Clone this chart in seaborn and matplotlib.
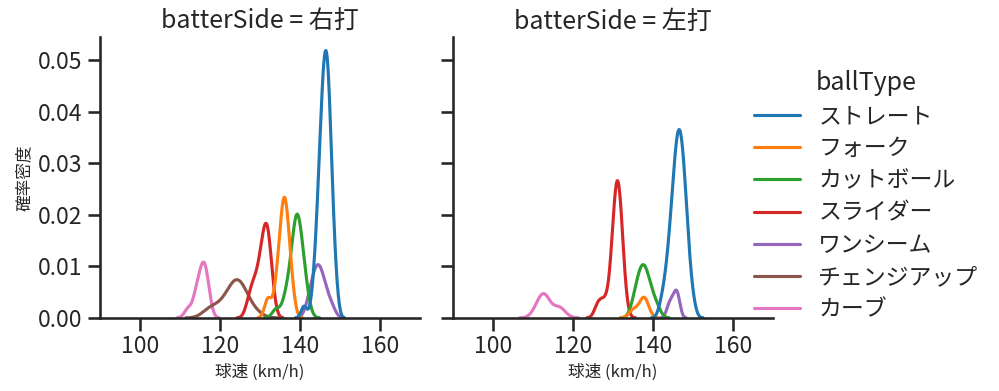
import numpy as np
import pandas as pd
import seaborn as sns
import matplotlib.pyplot as plt

ball_types = ["ストレート", "フォーク", "カットボール", "スライダー", "ワンシーム", "チェンジアップ", "カーブ"]
sides = ["右打", "左打"]

# 右打 (speed km/h, pitch count)
r_straight_kmh = [141, 143, 144, 145, 146, 147, 148, 149]
r_straight_n = [1, 1, 4, 9, 14, 14, 7, 2]
r_fork_kmh = [132, 134, 135, 136, 137, 138]
r_fork_n = [2, 2, 4, 8, 5, 2]
r_cut_kmh = [134, 136, 137, 138, 139, 140, 141, 142]
r_cut_n = [1, 1, 2, 3, 7, 5, 3, 1]
r_slider_kmh = [127, 128, 129, 130, 131, 132, 133]
r_slider_n = [1, 2, 2, 3, 5, 6, 2]
r_oneseam_kmh = [142, 143, 144, 145, 146, 147, 148]
r_oneseam_n = [1, 2, 3, 3, 2, 1, 1]
r_change_kmh = [117, 118, 120, 121, 122, 123, 124, 125, 126, 127, 129]
r_change_n = [1, 1, 1, 1, 1, 2, 3, 2, 2, 1, 1]
r_curve_kmh = [112, 114, 115, 116, 117]
r_curve_n = [1, 2, 2, 4, 2]

# 左打
l_straight_kmh = [142, 143, 144, 145, 146, 147, 148, 149, 150]
l_straight_n = [1, 2, 4, 7, 10, 10, 7, 3, 1]
l_fork_kmh = [135, 137, 138]
l_fork_n = [1, 1, 2]
l_cut_kmh = [135, 136, 137, 138, 139, 140, 141]
l_cut_n = [1, 2, 3, 3, 2, 1, 1]
l_slider_kmh = [126, 127, 128, 129, 130, 131, 132, 133]
l_slider_n = [1, 1, 1, 1, 5, 9, 6, 1]
l_oneseam_kmh = [144, 145, 146]
l_oneseam_n = [1, 1, 2]
l_curve_kmh = [111, 112, 113, 116, 117]
l_curve_n = [1, 1, 3, 1, 1]

groups = [
    ("右打", "ストレート", r_straight_kmh, r_straight_n),
    ("右打", "フォーク", r_fork_kmh, r_fork_n),
    ("右打", "カットボール", r_cut_kmh, r_cut_n),
    ("右打", "スライダー", r_slider_kmh, r_slider_n),
    ("右打", "ワンシーム", r_oneseam_kmh, r_oneseam_n),
    ("右打", "チェンジアップ", r_change_kmh, r_change_n),
    ("右打", "カーブ", r_curve_kmh, r_curve_n),
    ("左打", "ストレート", l_straight_kmh, l_straight_n),
    ("左打", "フォーク", l_fork_kmh, l_fork_n),
    ("左打", "カットボール", l_cut_kmh, l_cut_n),
    ("左打", "スライダー", l_slider_kmh, l_slider_n),
    ("左打", "ワンシーム", l_oneseam_kmh, l_oneseam_n),
    ("左打", "カーブ", l_curve_kmh, l_curve_n),
]

rows = []
for side, bt, kmh, n in groups:
    for v, c in zip(kmh, n):
        rows += [(side, bt, v)] * c
df = pd.DataFrame(rows, columns=["batterSide", "ballType", "speed"])

sns.set_theme(style="ticks", context="talk")
plt.rcParams['font.family'] = ['Noto Sans CJK JP', 'DejaVu Sans']
plt.rcParams['legend.labelspacing'] = 0.4

g = sns.displot(data=df, x="speed", hue="ballType", col="batterSide", kind="kde",
                hue_order=ball_types, col_order=sides, palette="tab10",
                height=3.6, aspect=1.1)
g.set(xlim=(90, 170))
g.set_axis_labels("球速 (km/h)", "確率密度", fontsize=12)
g.set_titles("{col_var} = {col_name}", fontsize=16)

g.figure.set_size_inches(9.99, 3.91)
g.figure.subplots_adjust(left=0.1, right=0.774, bottom=0.187, top=0.905, wspace=0.103)
g.figure.savefig("out.png", dpi=100)
